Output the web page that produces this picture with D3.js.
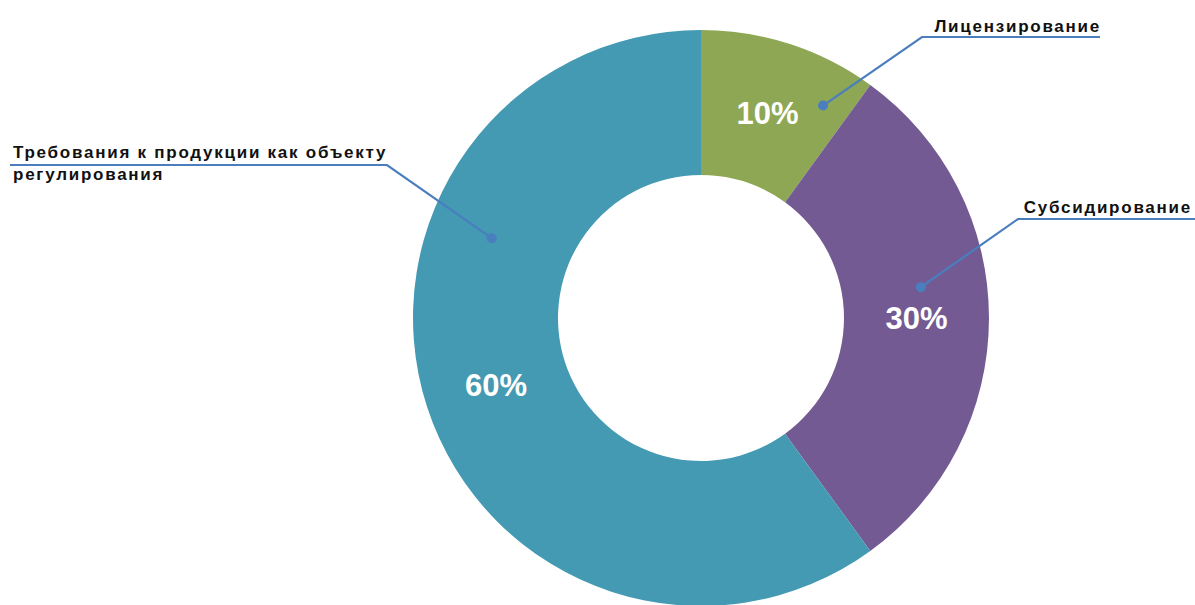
<!DOCTYPE html>
<html><head><meta charset="utf-8">
<script src="https://cdn.jsdelivr.net/npm/d3@7"></script>
<style>body{margin:0;background:#fff}svg{display:block}</style>
</head><body>
<svg id="c" width="1195" height="605"></svg>
<script>
const categories = ["Лицензирование", "Субсидирование", "Требования к продукции как объекту регулирования"];
const values = [10, 30, 60];
const percentLabels = ["10%", "30%", "60%"];
const colors = ["#8EA754", "#735A92", "#4499B3"];
// label text lines per category
const labelLines = [["Лицензирование"], ["Субсидирование"], ["Требования к продукции как объекту", "регулирования"]];

const W = 1195, H = 605;
const cx = 701, cy = 318, rOuter = 288, rInner = 143;
const svg = d3.select("#c");
const g = svg.append("g").attr("transform", `translate(${cx},${cy})`);

const pie = d3.pie().sort(null).value(d => d)(values);
const arc = d3.arc().innerRadius(rInner).outerRadius(rOuter);

g.selectAll("path.slice").data(pie).join("path")
  .attr("class", "slice")
  .attr("d", arc)
  .attr("fill", (d, i) => colors[i]);

g.selectAll("text.pct").data(pie).join("text")
  .attr("class", "pct")
  .attr("transform", d => `translate(${arc.centroid(d)})`)
  .attr("text-anchor", "middle")
  .attr("dy", "0.36em")
  .attr("fill", "#fff")
  .attr("font-family", "Liberation Sans, Arial, sans-serif")
  .attr("font-weight", "bold")
  .attr("font-size", 31)
  .text((d, i) => percentLabels[i]);

// leader lines: anchor point inside slice (fraction of slice angle, radius), elbow, end of horizontal
const leaders = [
  {t: 0.83, r: 245, elbow: [922, 37], end: 1100, anchor: "end", textX: 1101, textY: 32},
  {t: 0.426, r: 222, elbow: [1018, 219], end: 1195, anchor: "end", textX: 1192, textY: 213},
  {t: 0.68, r: 224, elbow: [387, 165], end: 10, anchor: "start", textX: 13, textY: 158}
];
const lineColor = "#4A7EBE";
const lg = svg.append("g");
pie.forEach((d, i) => {
  const L = leaders[i];
  const a = d.startAngle + (d.endAngle - d.startAngle) * L.t;
  const px = cx + L.r * Math.sin(a), py = cy - L.r * Math.cos(a);
  lg.append("polyline")
    .attr("points", [[px, py], L.elbow, [L.end, L.elbow[1]]].map(p => p.join(",")).join(" "))
    .attr("fill", "none").attr("stroke", lineColor).attr("stroke-width", 2.2);
  lg.append("circle").attr("cx", px).attr("cy", py).attr("r", 5).attr("fill", lineColor);
  const t = lg.append("text")
    .attr("x", L.textX).attr("y", L.textY)
    .attr("text-anchor", L.anchor)
    .attr("font-family", "Liberation Sans, Arial, sans-serif")
    .attr("font-weight", "bold")
    .attr("font-size", 17)
    .attr("letter-spacing", 1.75)
    .attr("fill", "#111");
  labelLines[i].forEach((ln, k) => {
    t.append("tspan").attr("x", L.textX).attr("dy", k === 0 ? 0 : 22).text(ln);
  });
});
</script>
</body></html>
